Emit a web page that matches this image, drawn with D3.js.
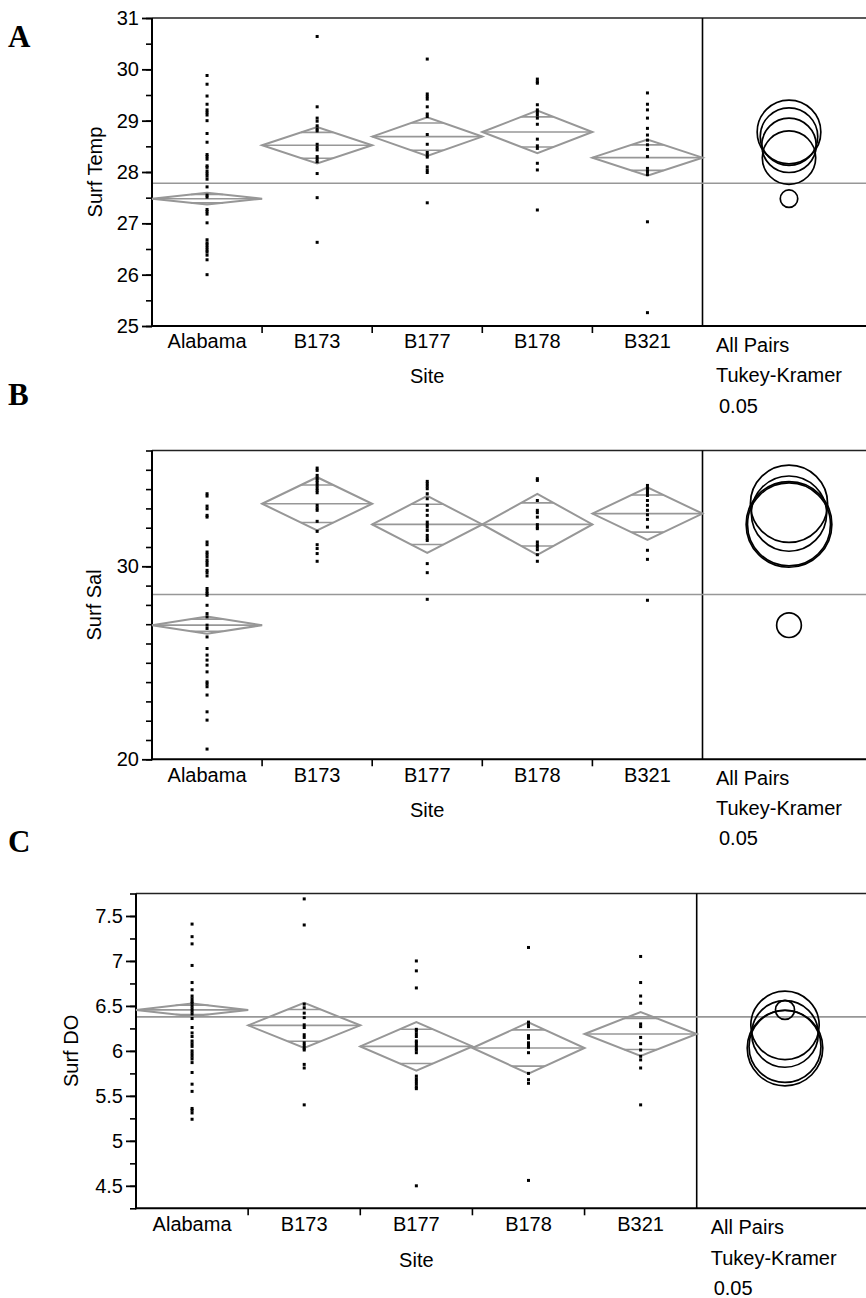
<!DOCTYPE html>
<html><head><meta charset="utf-8">
<script src="https://cdn.jsdelivr.net/npm/d3@7"></script>
<style>body{margin:0;background:#fff}svg{display:block}</style>
</head><body>
<svg id="chart" width="866" height="1298"></svg>
<script>
const sites = ["Alabama","B173","B177","B178","B321"];

// ---- Panel A: Surf Temp ----
const tempTicks = [25,26,27,28,29,30,31];
const tempMeans = [27.48, 28.52, 28.69, 28.78, 28.28];
const tempCI = [0.115, 0.355, 0.375, 0.415, 0.35];
const tempCircleR = [0.17, 0.53, 0.56, 0.62, 0.52];
const tempGrand = 27.78;
const tempAlabama = [29.88,29.71,29.48,29.32,29.21,29.16,29.11,29.0,28.75,28.58,28.34,28.30,28.25,28.12,28.09,28.02,27.97,27.92,27.86,27.71,27.55,27.51,27.27,27.23,27.18,27.01,26.68,26.62,26.58,26.53,26.48,26.44,26.38,26.29,26.0];
const tempB173 = [30.64,29.27,29.05,28.99,28.90,28.84,28.80,28.54,28.48,28.43,28.30,28.25,28.20,27.97,27.50,26.63];
const tempB177 = [30.20,29.52,29.47,29.42,29.27,29.13,29.08,28.73,28.54,28.38,28.33,28.29,28.10,28.04,27.99,27.40];
const tempB178 = [29.81,29.76,29.73,29.31,29.21,29.16,29.11,29.05,28.93,28.64,28.51,28.46,28.17,28.04,27.26];
const tempB321 = [29.54,29.32,29.21,29.05,28.85,28.72,28.62,28.53,28.44,28.30,28.07,28.01,27.95,27.03,25.26];

// ---- Panel B: Surf Sal ----
const salTicks = [20,30];
const salMeans = [26.95, 33.24, 32.17, 32.17, 32.73];
const salCI = [0.445, 1.375, 1.475, 1.58, 1.36];
const salCircleR = [0.64, 2.0, 2.15, 2.22, 1.95];
const salGrand = 28.54;
const salAlabama = [33.76,33.64,33.12,32.98,32.64,32.55,31.26,31.12,30.74,30.62,30.48,30.31,30.19,30.05,29.79,29.67,29.50,28.85,28.71,28.59,28.50,27.98,27.55,27.38,26.95,26.78,26.34,25.74,25.40,25.14,24.88,24.53,24.01,23.90,23.76,23.33,22.46,22.03,20.53];
const salB173 = [35.09,34.97,34.71,34.57,34.45,34.33,34.19,34.05,33.93,33.81,33.16,33.02,32.90,32.33,31.81,31.12,30.92,30.66,30.26];
const salB177 = [34.40,34.28,34.15,34.02,33.76,33.50,33.16,32.90,32.64,32.29,32.16,32.03,31.86,31.60,31.46,31.34,30.14,29.67,28.29];
const salB178 = [34.54,34.45,33.41,32.90,32.78,32.55,32.16,32.03,31.95,31.26,31.12,31.0,30.86,30.60,30.26];
const salB321 = [34.19,34.05,33.93,33.81,33.67,33.41,33.16,32.90,32.67,32.43,32.03,30.83,30.36,28.24];

// ---- Panel C: Surf DO ----
const doTicks = [4.5,5,5.5,6,6.5,7,7.5];
const doTickLabels = ["4.5","5","5.5","6","6.5","7","7.5"];
const doMeans = [6.456, 6.284, 6.05, 6.032, 6.188];
const doCI = [0.072, 0.25, 0.27, 0.285, 0.245];
const doCircleR = [0.106, 0.38, 0.40, 0.42, 0.37];
const doGrand = 6.378;
const doAlabama = [7.41,7.27,7.19,6.95,6.76,6.68,6.61,6.58,6.55,6.53,6.50,6.47,6.44,6.41,6.36,6.26,6.20,6.16,6.11,6.08,6.05,6.00,5.97,5.94,5.91,5.87,5.76,5.63,5.55,5.36,5.34,5.31,5.24];
const doB173 = [7.69,7.40,6.52,6.48,6.42,6.37,6.29,6.26,6.18,6.15,6.09,6.06,6.03,6.01,5.85,5.81,5.40];
const doB177 = [7.00,6.89,6.70,6.24,6.22,6.19,6.16,6.11,6.09,6.06,6.03,6.01,5.98,5.72,5.69,5.66,5.63,5.60,5.58,4.50];
const doB178 = [7.15,6.32,6.29,6.27,6.17,6.14,6.09,6.07,6.04,5.98,5.75,5.68,5.64,4.56];
const doB321 = [7.05,6.76,6.61,6.53,6.30,6.27,6.15,6.08,6.01,5.94,5.90,5.81,5.40];

const sans = "'Liberation Sans', Arial, Helvetica, sans-serif";
const serif = "'Liberation Serif', 'Times New Roman', serif";
const GREY = "#979797";
const svg = d3.select("#chart");
const W = 866;

const panels = [
  {letter:"A", letterY:47, title:"Surf Temp", titleX:94.5,
   left:152, div:702.5, top:18, bottom:326, domain:[25,31], minorStep:0.5,
   ticks:tempTicks, tickFmt:d=>String(d),
   means:tempMeans, ci:tempCI, circ:tempCircleR, grand:tempGrand,
   pts:[tempAlabama,tempB173,tempB177,tempB178,tempB321],
   catY:348, siteY:383, rightX:716, rightY:[352,382,413], circX:86.5},
  {letter:"B", letterY:405, title:"Surf Sal", titleX:94,
   left:152, div:702.5, top:450.5, bottom:759.3, domain:[20,36], minorStep:1,
   ticks:salTicks, tickFmt:d=>String(d),
   means:salMeans, ci:salCI, circ:salCircleR, grand:salGrand,
   pts:[salAlabama,salB173,salB177,salB178,salB321],
   catY:781.5, siteY:816.5, rightX:716, rightY:[785,815,845], circX:86.5},
  {letter:"C", letterY:852, title:"Surf DO", titleX:70.5,
   left:136, div:696.7, top:893.5, bottom:1208.3, domain:[4.25,7.75], minorStep:0.25,
   ticks:doTicks, tickFmt:(d,i)=>doTickLabels[i],
   means:doMeans, ci:doCI, circ:doCircleR, grand:doGrand,
   pts:[doAlabama,doB173,doB177,doB178,doB321],
   catY:1230.5, siteY:1267, rightX:710.7, rightY:[1234,1265,1295], circX:88.3}
];

panels.forEach(p => {
  const g = svg.append("g");
  const x = d3.scaleBand().domain(sites).range([p.left, p.div]).padding(0);
  const y = d3.scaleLinear().domain(p.domain).range([p.bottom, p.top]);
  const bw = x.bandwidth();

  g.append("text").attr("x", 8).attr("y", p.letterY)
    .attr("font-family", serif).attr("font-weight", "bold").attr("font-size", 31)
    .text(p.letter);

  const minor = d3.range(p.domain[0], p.domain[1] + 1e-9, p.minorStep);
  g.append("g").attr("transform", `translate(${p.left},0)`)
    .call(d3.axisLeft(y).tickValues(minor).tickSize(6).tickSizeOuter(0).tickFormat(""))
    .call(a => a.select(".domain").remove())
    .call(a => a.selectAll("line").attr("stroke", "#000").attr("stroke-width", 1.6));
  g.append("g").attr("transform", `translate(${p.left},0)`)
    .call(d3.axisLeft(y).tickValues(p.ticks).tickSize(10).tickSizeOuter(0).tickPadding(3).tickFormat(p.tickFmt))
    .call(a => a.select(".domain").remove())
    .call(a => a.selectAll("line").attr("stroke", "#000").attr("stroke-width", 1.8))
    .call(a => a.selectAll("text").attr("font-family", sans).attr("font-size", 20).attr("fill", "#000"));

  g.append("line").attr("x1", p.left).attr("x2", W + 2).attr("y1", p.top).attr("y2", p.top)
    .attr("stroke", "#222").attr("stroke-width", 1.6);
  g.append("line").attr("x1", p.left).attr("x2", p.left).attr("y1", p.top).attr("y2", p.bottom + 1)
    .attr("stroke", "#000").attr("stroke-width", 2);
  g.append("line").attr("x1", p.left - 1).attr("x2", W + 2).attr("y1", p.bottom).attr("y2", p.bottom)
    .attr("stroke", "#000").attr("stroke-width", 2);
  g.append("line").attr("x1", p.div).attr("x2", p.div).attr("y1", p.top).attr("y2", p.bottom)
    .attr("stroke", "#000").attr("stroke-width", 1.6);

  g.selectAll(".ctick").data(sites.slice(1)).join("line")
    .attr("x1", d => x(d)).attr("x2", d => x(d))
    .attr("y1", p.bottom).attr("y2", p.bottom + 7)
    .attr("stroke", "#000").attr("stroke-width", 1.6);

  g.selectAll(".clab").data(sites).join("text")
    .attr("x", d => x(d) + bw / 2).attr("y", p.catY)
    .attr("text-anchor", "middle").attr("font-family", sans).attr("font-size", 20)
    .text(d => d);
  g.append("text").attr("x", (p.left + p.div) / 2).attr("y", p.siteY)
    .attr("text-anchor", "middle").attr("font-family", sans).attr("font-size", 20).text("Site");

  ["All Pairs", "Tukey-Kramer", "0.05"].forEach((t, i) => {
    g.append("text").attr("x", p.rightX + (i === 2 ? 3 : 0)).attr("y", p.rightY[i])
      .attr("font-family", sans).attr("font-size", 20).text(t);
  });

  const cy = (p.top + p.bottom) / 2;
  g.append("text").attr("transform", `translate(${p.titleX + 7},${cy}) rotate(-90)`)
    .attr("text-anchor", "middle").attr("font-family", sans).attr("font-size", 20)
    .text(p.title);

  g.append("line").attr("x1", p.left + 1).attr("x2", W + 2)
    .attr("y1", y(p.grand)).attr("y2", y(p.grand))
    .attr("stroke", GREY).attr("stroke-width", 1.6);

  sites.forEach((s, i) => {
    const x0 = x(s), x1 = x(s) + bw, xc = x0 + bw / 2;
    const m = p.means[i], c = p.ci[i];
    const path = d3.path();
    path.moveTo(x0, y(m)); path.lineTo(xc, y(m + c)); path.lineTo(x1, y(m));
    path.lineTo(xc, y(m - c)); path.closePath();
    g.append("path").attr("d", path.toString()).attr("fill", "none")
      .attr("stroke", GREY).attr("stroke-width", 2).attr("stroke-linejoin", "miter");
    g.append("line").attr("x1", x0).attr("x2", x1).attr("y1", y(m)).attr("y2", y(m))
      .attr("stroke", GREY).attr("stroke-width", 1.6);
    const k = 1 / Math.SQRT2;
    const hw = (bw / 2) * (1 - k);
    [m + c * k, m - c * k].forEach(v => {
      g.append("line").attr("x1", xc - hw).attr("x2", xc + hw).attr("y1", y(v)).attr("y2", y(v))
        .attr("stroke", GREY).attr("stroke-width", 1.6);
    });
    g.selectAll(null).data(p.pts[i]).join("rect")
      .attr("x", xc - 1.5).attr("y", d => y(d) - 1.5).attr("width", 3).attr("height", 3)
      .attr("fill", "#000");
  });

  const ccx = p.div + p.circX;
  sites.forEach((s, i) => {
    const r = Math.abs(y(p.means[i] + p.circ[i]) - y(p.means[i]));
    g.append("circle").attr("cx", ccx).attr("cy", y(p.means[i])).attr("r", r)
      .attr("fill", "none").attr("stroke", "#000").attr("stroke-width", 1.7);
  });
});
</script>
</body></html>
